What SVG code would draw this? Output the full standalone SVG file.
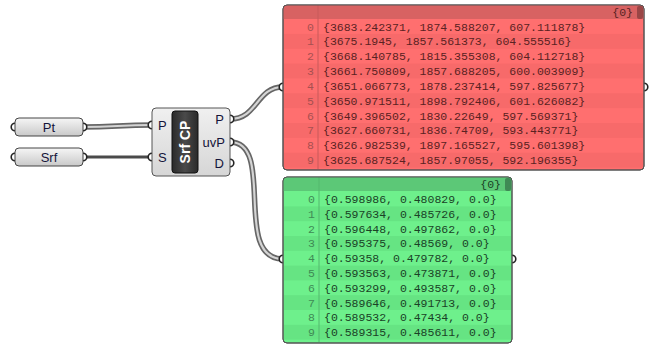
<svg xmlns="http://www.w3.org/2000/svg" width="649" height="345" viewBox="0 0 649 345">
<style>
.mono{font-family:"Liberation Mono","DejaVu Sans Mono",monospace;font-size:11.5px}
.rd{fill:#5a2222}
.ri{fill:#a85050;text-anchor:end}
.gd{fill:#1a4226}
.gi{fill:#3f8a55;text-anchor:end}
.lbl{font-family:"Liberation Sans",Arial,sans-serif;font-size:13px;fill:#14143a}
.grip{fill:#fff;stroke:#222;stroke-width:1.6}
.wo{fill:none;stroke:#666;stroke-width:5.5;stroke-linecap:round}
.wi{fill:none;stroke:#d4d4d4;stroke-width:2.2;stroke-linecap:round}
.ws{fill:none;stroke:#4a4a4a;stroke-width:2.8;stroke-linecap:round}
</style>
<defs>
<linearGradient id="pg" x1="0" y1="0" x2="0" y2="1">
<stop offset="0" stop-color="#f6f6f6"/><stop offset="1" stop-color="#c9c9c9"/>
</linearGradient>
<linearGradient id="cg" x1="0" y1="0" x2="0" y2="1">
<stop offset="0" stop-color="#f0f0f0"/><stop offset="1" stop-color="#d6d6d6"/>
</linearGradient>
<linearGradient id="bg" x1="0" y1="0" x2="1" y2="0">
<stop offset="0" stop-color="#2a2a2a"/><stop offset="0.5" stop-color="#4a4a4a"/><stop offset="1" stop-color="#2a2a2a"/>
</linearGradient>
</defs>

<g id="connectors">
<path class="wo" d="M83,127 C115,127 120,125 152,125"/>
<path class="wi" d="M83,127 C115,127 120,125 152,125"/>
<path class="ws" d="M83,157 C115,157 120,157 152,157"/>
<path class="wo" d="M230,119 C258,119 256,87 283,87"/>
<path class="wi" d="M230,119 C258,119 256,87 283,87"/>
<path class="wo" d="M230,142 C276,142 232,259 283,259"/>
<path class="wi" d="M230,142 C276,142 232,259 283,259"/>
</g>

<g id="param-pt">
<circle class="grip" cx="15" cy="127" r="3.8"/>
<circle class="grip" cx="83" cy="127" r="3.8"/>
<rect x="15" y="118" width="68" height="18" rx="4" fill="url(#pg)" stroke="#444" stroke-width="1"/>
<text class="lbl" x="49" y="131.5" text-anchor="middle">Pt</text>
</g>

<g id="param-srf">
<circle class="grip" cx="15" cy="157" r="3.8"/>
<circle class="grip" cx="83" cy="157" r="3.8"/>
<rect x="15" y="148" width="68" height="18" rx="4" fill="url(#pg)" stroke="#444" stroke-width="1"/>
<text class="lbl" x="49" y="161.5" text-anchor="middle">Srf</text>
</g>

<g id="srf-cp">
<circle class="grip" cx="152" cy="125" r="3.8"/>
<circle class="grip" cx="152" cy="157" r="3.8"/>
<circle class="grip" cx="230" cy="119" r="3.8"/>
<circle class="grip" cx="230" cy="142" r="3.8"/>
<circle class="grip" cx="230" cy="163" r="3.8"/>
<rect x="152" y="108" width="78" height="68" rx="4" fill="url(#cg)" stroke="#555" stroke-width="1"/>
<rect x="172" y="111" width="26" height="62" rx="3" fill="url(#bg)" stroke="#111" stroke-width="1"/>
<text x="185" y="147" transform="rotate(-90 185 142)" text-anchor="middle" font-family="'Liberation Sans',Arial,sans-serif" font-size="14" font-weight="bold" fill="#fff">Srf CP</text>
<text class="lbl" x="158" y="129.5">P</text>
<text class="lbl" x="158" y="161.5">S</text>
<text class="lbl" x="224" y="123.5" text-anchor="end">P</text>
<text class="lbl" x="225" y="146.5" text-anchor="end">uvP</text>
<text class="lbl" x="224" y="167.5" text-anchor="end">D</text>
</g>

<g id="panel-points">
<circle class="grip" cx="283" cy="87" r="3.8"/>
<circle class="grip" cx="644" cy="87" r="3.8"/>
<rect x="283" y="5" width="361" height="165" rx="4" fill="#ff6f6f" stroke="#555" stroke-width="1"/>
<path d="M287,5 H640 A4,4 0 0 1 644,9 V19 H283 V9 A4,4 0 0 1 287,5 Z" fill="#d86262"/>
<rect x="284" y="33.9" width="359" height="14.85" fill="#f76a6a"/>
<rect x="284" y="63.6" width="359" height="14.85" fill="#f76a6a"/>
<rect x="284" y="93.3" width="359" height="14.85" fill="#f76a6a"/>
<rect x="284" y="123" width="359" height="14.85" fill="#f76a6a"/>
<rect x="284" y="152.7" width="359" height="14.85" fill="#f76a6a"/>
<line x1="318" y1="5" x2="318" y2="169" stroke="#c85a5a" stroke-width="1"/>
<rect x="283" y="5" width="361" height="165" rx="4" fill="none" stroke="#555" stroke-width="1"/>
<rect x="637" y="6" width="6" height="13" rx="2" fill="#9a4646"/>
<text class="mono rd" x="633" y="16" text-anchor="end">{0}</text>
<g class="mono">
<text class="ri" x="314" y="30.5">0</text><text class="rd" x="323" y="30.5">{3683.242371, 1874.588207, 607.111878}</text>
<text class="ri" x="314" y="45.35">1</text><text class="rd" x="323" y="45.35">{3675.1945, 1857.561373, 604.555516}</text>
<text class="ri" x="314" y="60.2">2</text><text class="rd" x="323" y="60.2">{3668.140785, 1815.355308, 604.112718}</text>
<text class="ri" x="314" y="75.05">3</text><text class="rd" x="323" y="75.05">{3661.750809, 1857.688205, 600.003909}</text>
<text class="ri" x="314" y="89.9">4</text><text class="rd" x="323" y="89.9">{3651.066773, 1878.237414, 597.825677}</text>
<text class="ri" x="314" y="104.75">5</text><text class="rd" x="323" y="104.75">{3650.971511, 1898.792406, 601.626082}</text>
<text class="ri" x="314" y="119.6">6</text><text class="rd" x="323" y="119.6">{3649.396502, 1830.22649, 597.569371}</text>
<text class="ri" x="314" y="134.45">7</text><text class="rd" x="323" y="134.45">{3627.660731, 1836.74709, 593.443771}</text>
<text class="ri" x="314" y="149.3">8</text><text class="rd" x="323" y="149.3">{3626.982539, 1897.165527, 595.601398}</text>
<text class="ri" x="314" y="164.15">9</text><text class="rd" x="323" y="164.15">{3625.687524, 1857.97055, 592.196355}</text>
</g>
</g>

<g id="panel-uv">
<circle class="grip" cx="283" cy="259" r="3.8"/>
<circle class="grip" cx="512" cy="259" r="3.8"/>
<rect x="283" y="177" width="229" height="166" rx="4" fill="#6ef08c" stroke="#555" stroke-width="1"/>
<path d="M287,177 H508 A4,4 0 0 1 512,181 V191 H283 V181 A4,4 0 0 1 287,177 Z" fill="#5cc877"/>
<rect x="284" y="206.4" width="227" height="14.8" fill="#66e483"/>
<rect x="284" y="236" width="227" height="14.8" fill="#66e483"/>
<rect x="284" y="265.6" width="227" height="14.8" fill="#66e483"/>
<rect x="284" y="295.2" width="227" height="14.8" fill="#66e483"/>
<rect x="284" y="324.8" width="227" height="14.8" fill="#66e483"/>
<line x1="319" y1="177" x2="319" y2="342" stroke="#55b86e" stroke-width="1"/>
<rect x="283" y="177" width="229" height="166" rx="4" fill="none" stroke="#555" stroke-width="1"/>
<rect x="505" y="178" width="6" height="13" rx="2" fill="#3f8a55"/>
<text class="mono gd" x="501" y="188" text-anchor="end">{0}</text>
<g class="mono">
<text class="gi" x="315" y="203">0</text><text class="gd" x="324" y="203">{0.598986, 0.480829, 0.0}</text>
<text class="gi" x="315" y="217.8">1</text><text class="gd" x="324" y="217.8">{0.597634, 0.485726, 0.0}</text>
<text class="gi" x="315" y="232.6">2</text><text class="gd" x="324" y="232.6">{0.596448, 0.497862, 0.0}</text>
<text class="gi" x="315" y="247.4">3</text><text class="gd" x="324" y="247.4">{0.595375, 0.48569, 0.0}</text>
<text class="gi" x="315" y="262.2">4</text><text class="gd" x="324" y="262.2">{0.59358, 0.479782, 0.0}</text>
<text class="gi" x="315" y="277">5</text><text class="gd" x="324" y="277">{0.593563, 0.473871, 0.0}</text>
<text class="gi" x="315" y="291.8">6</text><text class="gd" x="324" y="291.8">{0.593299, 0.493587, 0.0}</text>
<text class="gi" x="315" y="306.6">7</text><text class="gd" x="324" y="306.6">{0.589646, 0.491713, 0.0}</text>
<text class="gi" x="315" y="321.4">8</text><text class="gd" x="324" y="321.4">{0.589532, 0.47434, 0.0}</text>
<text class="gi" x="315" y="336.2">9</text><text class="gd" x="324" y="336.2">{0.589315, 0.485611, 0.0}</text>
</g>
</g>
</svg>
